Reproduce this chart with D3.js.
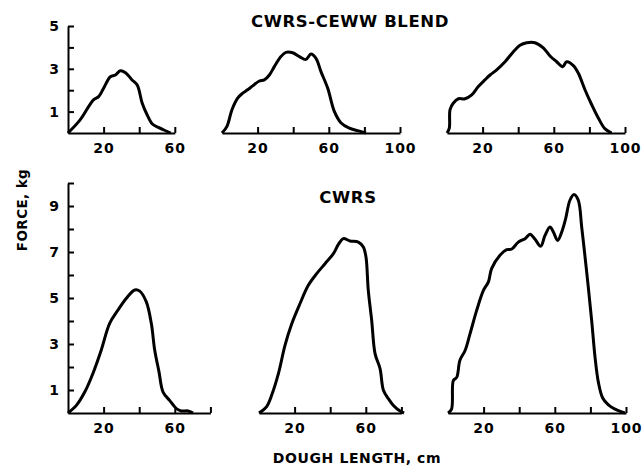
<!DOCTYPE html>
<html>
<head>
<meta charset="utf-8">
<script src="https://cdn.jsdelivr.net/npm/d3@7"></script>
<style>
  body { margin: 0; background: #fff; }
  svg { display: block; }
  text { font-family: "DejaVu Sans", sans-serif; font-weight: bold; fill: #000; }
</style>
</head>
<body>
<svg></svg>
<script>
const [svgWidth, svgHeight] = [643, 466];
const svg = d3.select('svg')
  .attr('width', svgWidth)
  .attr('height', svgHeight);

// dough length (cm) and force (kg)
const blendLen1 = [0, 6.8, 14.3, 17.2, 20, 23.8, 26.6, 29.4, 32.3, 36, 38.9, 41.7, 44.5, 47.4, 51.1, 53.9, 57.7];
const blendForce1 = [0, 0.61, 1.55, 1.7, 2.09, 2.63, 2.71, 2.91, 2.82, 2.48, 2.24, 1.39, 0.84, 0.42, 0.25, 0.14, 0];

const blendLen2 = [0, 2.8, 5.6, 8.8, 11.6, 14.4, 17.2, 21, 23.8, 26.6, 29.4, 33.1, 35.9, 39.7, 43.5, 47.2, 50, 52.8, 55.6, 59.4, 63.1, 66.9, 71.5, 76.2, 80.9];
const blendForce2 = [0, 0.31, 1.09, 1.63, 1.86, 2.02, 2.2, 2.43, 2.48, 2.71, 3.1, 3.57, 3.77, 3.75, 3.57, 3.44, 3.69, 3.49, 2.87, 2.09, 1.01, 0.47, 0.23, 0.11, 0];

const blendLen3 = [0, 1.3, 1.7, 3.6, 6.4, 10.1, 13.9, 17.6, 21.3, 24.2, 27.9, 32.6, 37.3, 41, 44.8, 49.4, 54.1, 57.9, 61.6, 65, 67.2, 71, 73.8, 77.5, 81.3, 85, 88.8, 92.5];
const blendForce3 = [0, 0.23, 1.09, 1.4, 1.6, 1.6, 1.78, 2.17, 2.48, 2.71, 2.95, 3.33, 3.8, 4.1, 4.22, 4.22, 3.98, 3.6, 3.33, 3.1, 3.33, 3.15, 2.79, 2.02, 1.32, 0.7, 0.19, 0];

const cwrsLen1 = [0, 4.7, 9.4, 14, 18.7, 23.4, 28.1, 32.8, 37.5, 40.3, 44, 46.8, 48.7, 51.1, 53.4, 57.1, 60.9, 63.7, 67.4, 70.2];
const cwrsForce1 = [0, 0.33, 0.91, 1.72, 2.74, 3.9, 4.48, 4.99, 5.35, 5.3, 4.83, 3.9, 2.74, 1.8, 0.91, 0.55, 0.19, 0.09, 0.09, 0];

const cwrsLen2 = [0, 4.3, 7.1, 10.9, 14.6, 18.4, 23, 27.7, 32.4, 37.1, 41.8, 44.6, 47.4, 51.1, 55.8, 58.6, 60.1, 61.4, 63.3, 65.2, 68, 69.9, 72.7, 75.5, 79.2, 81.5];
const cwrsForce2 = [0, 0.28, 0.77, 1.71, 2.94, 3.88, 4.75, 5.55, 6.06, 6.49, 6.93, 7.33, 7.58, 7.48, 7.43, 7.22, 6.78, 5.33, 4.03, 2.58, 1.93, 0.99, 0.62, 0.33, 0.09, 0];

const cwrsLen3 = [0, 2, 3, 4.9, 6.7, 9.6, 12.4, 16.1, 19.9, 22.7, 24.5, 29.2, 33, 35.8, 39.5, 43.3, 46.1, 48.9, 52.1, 54.5, 57.3, 59.2, 61.6, 63.9, 66.1, 68.5, 70.8, 73.2, 75.1, 77, 78.8, 80.7, 82.6, 84.5, 86.9, 90.1, 93.8, 99.4];
const cwrsForce3 = [0, 0.17, 1.41, 1.55, 2.29, 2.72, 3.45, 4.46, 5.33, 5.7, 6.28, 6.86, 7.1, 7.13, 7.43, 7.58, 7.77, 7.55, 7.25, 7.72, 8.09, 7.87, 7.5, 7.87, 8.45, 9.25, 9.5, 9.25, 8.09, 6.78, 5.48, 4.03, 2.43, 1.33, 0.65, 0.35, 0.17, 0];

const lenTicks60 = [20, 40, 60];
const lenTicks80 = [20, 40, 60, 80];
const lenTicks100 = [20, 40, 60, 80, 100];
const lenLabels = [20, 60, 100];
const topForceTicks = [1, 2, 3, 4, 5];
const bottomForceTicks = [1, 2, 3, 4, 5, 6, 7, 8, 9, 10];
const forceLabels = [1, 3, 5, 7, 9];

const titleTop = 'CWRS-CEWW BLEND';
const titleBottom = 'CWRS';
const yTitle = 'FORCE, kg';
const xTitle = 'DOUGH LENGTH, cm';

const pxPerCm = 1.78;
const yTop = d3.scaleLinear().domain([0, 5]).range([133, 26]);
const yBottom = d3.scaleLinear().domain([0, 10]).range([413, 183]);

const panels = [
  { x0: 68, max: 60, ticks: lenTicks60, len: blendLen1, force: blendForce1, y: yTop, yTicks: topForceTicks },
  { x0: 222, max: 100, ticks: lenTicks100, len: blendLen2, force: blendForce2, y: yTop },
  { x0: 447, max: 100, ticks: lenTicks100, len: blendLen3, force: blendForce3, y: yTop },
  { x0: 68, max: 80, ticks: lenTicks80, len: cwrsLen1, force: cwrsForce1, y: yBottom, yTicks: bottomForceTicks },
  { x0: 259, max: 80, ticks: lenTicks80, len: cwrsLen2, force: cwrsForce2, y: yBottom },
  { x0: 448, max: 100, ticks: lenTicks100, len: cwrsLen3, force: cwrsForce3, y: yBottom }
];

const styleAxis = (g) => {
  g.select('.domain').attr('stroke', '#000').attr('stroke-width', 2);
  g.selectAll('.tick line').attr('stroke', '#000').attr('stroke-width', 2);
  g.selectAll('.tick text')
    .attr('font-size', 14)
    .attr('letter-spacing', 1)
    .attr('font-family', '"DejaVu Sans", sans-serif')
    .attr('font-weight', 'bold');
};

panels.forEach(p => {
  const x = d3.scaleLinear()
    .domain([0, p.max])
    .range([p.x0, p.x0 + p.max * pxPerCm]);

  const xAxis = d3.axisBottom(x)
    .tickValues(p.ticks)
    .tickSizeInner(-6)
    .tickSizeOuter(0)
    .tickPadding(10)
    .tickFormat(d => lenLabels.includes(d) ? d : '');
  svg.append('g')
    .attr('transform', `translate(0, ${p.y(0)})`)
    .call(xAxis)
    .call(styleAxis);

  if (p.yTicks) {
    const yAxis = d3.axisLeft(p.y)
      .tickValues(p.yTicks)
      .tickSizeInner(-6)
      .tickSizeOuter(0)
      .tickPadding(8)
      .tickFormat(d => forceLabels.includes(d) ? d : '');
    svg.append('g')
      .attr('transform', `translate(${p.x0}, 0)`)
      .call(yAxis)
      .call(styleAxis);
  }

  const pts = p.len.map((d, i) => [d, p.force[i]]);
  const line = d3.line()
    .x(d => x(d[0]))
    .y(d => p.y(d[1]))
    .curve(d3.curveCatmullRom.alpha(0.5));
  svg.append('path')
    .datum(pts)
    .attr('d', line)
    .attr('fill', 'none')
    .attr('stroke', '#000')
    .attr('stroke-width', 3)
    .attr('stroke-linejoin', 'round');
});

svg.append('text')
  .attr('x', 350)
  .attr('y', 27)
  .attr('text-anchor', 'middle')
  .attr('font-size', 16.5)
  .attr('letter-spacing', 0.6)
  .text(titleTop);

svg.append('text')
  .attr('x', 348)
  .attr('y', 203)
  .attr('text-anchor', 'middle')
  .attr('font-size', 16.5)
  .attr('letter-spacing', 0.6)
  .text(titleBottom);

svg.append('text')
  .attr('transform', 'translate(27, 210) rotate(-90)')
  .attr('text-anchor', 'middle')
  .attr('font-size', 13.5)
  .attr('letter-spacing', 0.4)
  .text(yTitle);

svg.append('text')
  .attr('x', 357)
  .attr('y', 463)
  .attr('text-anchor', 'middle')
  .attr('font-size', 14)
  .attr('letter-spacing', 0.6)
  .text(xTitle);
</script>
</body>
</html>
